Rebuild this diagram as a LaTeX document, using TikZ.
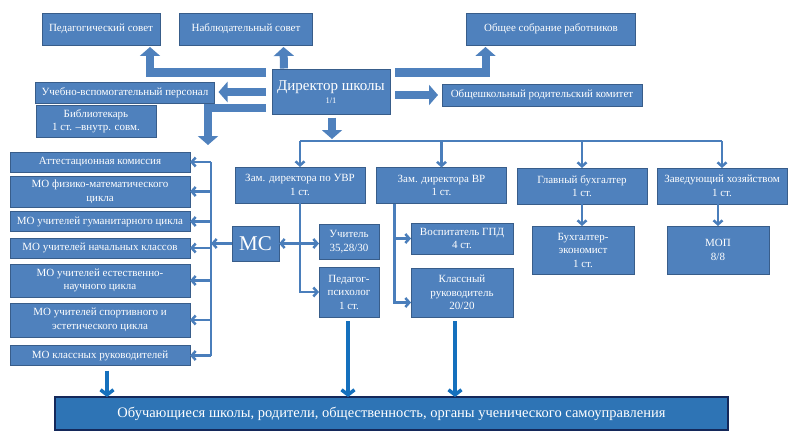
\documentclass[tikz,border=0pt]{standalone}
\usepackage{fontspec}
\setmainfont{Liberation Serif}
\usetikzlibrary{arrows.meta, calc, positioning}
\definecolor{boxfill}{HTML}{4F81BD}
\definecolor{boxline}{HTML}{385D8A}
\definecolor{linkblue}{HTML}{4A7EBB}
\definecolor{downblue}{HTML}{1570BD}
\definecolor{basefill}{HTML}{2E74B5}
\definecolor{basedraw}{HTML}{14285A}

\begin{document}
\begin{tikzpicture}[x=1pt, y=-1pt,% styles used in image code
         > = {Straight Barb[length=4pt, width=9pt]},
box/.style args = {#1/#2}{draw=boxline, fill=boxfill, line width=0.8pt,
              text=white, minimum width=#1, minimum height=#2,
              inner sep=0pt, outer sep=0pt, align=center,
              font=\fontsize{11}{13.5}\selectfont},
fat/.style = {line width=8pt, boxfill,
              -{Triangle[width=20pt, length=9pt]}},
link/.style = {line width=2.5pt, linkblue},
down/.style = {line width=3.5pt, downblue,
              -{Straight Barb[length=5pt, width=13pt]}},
                        ]
	\useasboundingbox (0,0) rectangle (800,436);

	% top level
	\node[box=118pt/32pt] (ped)  at (101,29)  {Педагогический совет};
	\node[box=133pt/32pt] (nab)  at (246,29)  {Наблюдательный совет};
	\node[box=169pt/32pt] (obsh) at (551,29)  {Общее собрание работников};
	\node[box=118pt/45pt] (dir)  at (331,92)
	     {{\fontsize{15}{18}\selectfont Директор школы}\\{\fontsize{8.5}{10}\selectfont 1/1}};
	\node[box=179pt/21pt] (ucheb)  at (125,92.5) {Учебно-вспомогательный персонал};
	\node[box=120pt/32pt] (bib)    at (96,121)   {Библиотекарь\\1 ст. –внутр. совм.};
	\node[box=200pt/22pt] (rodkom) at (542,95)   {Общешкольный родительский комитет};

	% deputies
	\node[box=130pt/36pt] (uvr) at (300,185)   {Зам. директора по УВР\\1 ст.};
	\node[box=130pt/36pt] (vr)  at (441.5,185.5) {Зам. директора ВР\\1 ст.};
	\node[box=130pt/36pt] (buh) at (582,186)   {Главный бухгалтер\\1 ст.};
	\node[box=130pt/36pt] (zav) at (722,186)   {Заведующий хозяйством\\1 ст.};

	\node[box=60pt/35pt]  (uch)   at (349,241.5) {Учитель\\35,28/30};
	\node[box=60pt/50pt]  (psy)   at (349,292)   {Педагог-\\психолог\\1 ст.};
	\node[box=47pt/35pt, font=\fontsize{21}{22}\selectfont] (ms) at (255.5,243.5) {МС};
	\node[box=102pt/31pt] (gpd)   at (462,238.5) {Воспитатель ГПД\\4 ст.};
	\node[box=102pt/49pt] (klass) at (462,292.5) {Классный\\руководитель\\20/20};
	\node[box=102pt/48pt] (buhek) at (583,250)   {Бухгалтер-\\экономист\\1 ст.};
	\node[box=102pt/48pt] (mop)   at (718,250)   {МОП\\8/8};

	% methodical units
	\node[box=180pt/20pt] (att)   at (100,162)   {Аттестационная комиссия};
	\node[box=180pt/31pt] (fiz)   at (100,191.5) {МО физико-математического\\цикла};
	\node[box=180pt/20pt] (gum)   at (100,221.5) {МО учителей гуманитарного цикла};
	\node[box=180pt/20pt] (nach)  at (100,248)   {МО учителей начальных классов};
	\node[box=180pt/33pt] (est)   at (100,280.5) {МО учителей естественно-\\научного цикла};
	\node[box=180pt/34pt] (sport) at (100,320)   {МО учителей спортивного и\\эстетического цикла};
	\node[box=180pt/20pt] (kl)    at (100,355.5) {МО классных руководителей};

	\node[box=673pt/33pt, fill=basefill, draw=basedraw, line width=1.6pt,
	      font=\fontsize{14.5}{16}\selectfont] (base) at (391.5,413.5)
	     {Обучающиеся школы, родители, общественность, органы ученического самоуправления};

	\coordinate (bus)   at (0,141);
	\coordinate (trunk) at (211,0);
	\coordinate (lft)   at (208,145);
	\coordinate (klx)   at ($(kl.south)+(7,5)$);

	% block arrows from the director
	\draw[fat] ($(dir.north west)+(-6,3)$) -| ($(ped.south east)+(-10,2)$);
	\draw[fat] ($(dir.north west)+(12,-1)$) -- ($(nab.south east)+(-29,2)$);
	\draw[fat] ($(dir.north east)+(5,3)$) -| ($(obsh.south west)+(19,2)$);
	\draw[fat] ($(dir.west)+(-6,0)$) -- ($(dir.west -| ucheb.east)+(4,0)$);
	\draw[fat] ($(dir.east |- rodkom.west)+(5,0)$) -- ($(rodkom.west)+(-4,0)$);
	\draw[fat] ($(dir.south west)+(-6,-7)$) -| (lft);
	\draw[fat] ($(dir.south)+(1,3)$) -- ($(dir.south |- bus)+(1,-2)$);

	% deputies
	\draw[link] (uvr.north |- bus) -- (zav.north |- bus);
	\foreach \n in {uvr, vr, buh, zav}
	  \draw[link, ->] (\n.north |- bus) -- (\n.north);

	\draw[link, ->] (uvr.south) |- (psy.west);
	\draw[link, <->] (ms.east) -- (ms.east -| uch.west);
	\draw[link, ->] ($(vr.south west)+(18,0)$) |- (gpd.west);
	\draw[link, ->] ($(vr.south west)+(18,0)$) |- ($(klass.west)+(0,10)$);
	\draw[link, ->] (buh.south) -- (buh.south |- buhek.north);
	\draw[link, ->] (mop.north |- zav.south) -- (mop.north);

	% left tree
	\draw[link] (att.east -| trunk) -- (kl.east -| trunk);
	\foreach \n in {att, fiz, gum, nach, est, sport, kl}
	  \draw[link, ->] (\n.east -| trunk) -- (\n.east);
	\draw[link, ->] (ms.west) -- (ms.west -| trunk);

	% down to the base
	\draw[down] (klx) -- (klx |- base.north);
	\draw[down] ($(psy.south)+(-1,4)$) -- ($(psy.south |- base.north)+(-1,0)$);
	\draw[down] ($(klass.south)+(-7,4)$) -- ($(klass.south |- base.north)+(-7,0)$);
\end{tikzpicture}
\end{document}
